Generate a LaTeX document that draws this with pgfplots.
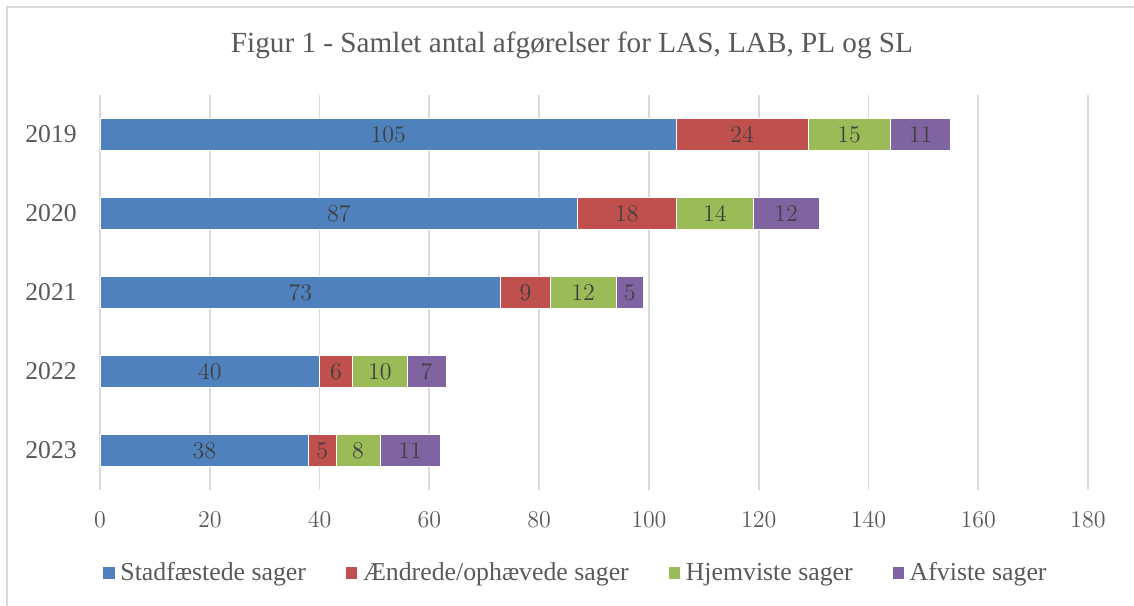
\documentclass[border=0pt]{standalone}
\usepackage{pgfplots}
\usepackage{pgfplotstable}
\pgfplotsset{compat=1.18}
\usepackage{fontspec}
\setmainfont{Liberation Serif}
\definecolor{cblue}{HTML}{4F81BD}
\definecolor{cred}{HTML}{C0504D}
\definecolor{cgreen}{HTML}{9BBB59}
\definecolor{cpurple}{HTML}{8064A2}
\definecolor{gridc}{HTML}{D9D9D9}
\definecolor{txt}{HTML}{595959}
\definecolor{lbl}{HTML}{404040}
\pgfplotstableread{
y s a h f
0 105 24 15 11
1 87 18 14 12
2 73 9 12 5
3 40 6 10 7
4 38 5 8 11
}\data
\begin{document}
\begin{tikzpicture}
\useasboundingbox (0,0) rectangle (567pt,302.5pt);
\begin{scope}
\clip (0,0) rectangle (567pt,302.5pt);
\draw[gridc, line width=0.8pt] (3.5pt,-10pt) rectangle (600pt,299pt);
\end{scope}
\node[text=txt, font=\fontsize{14.6}{18}\selectfont] at (286pt,280pt) {Figur 1 - Samlet antal afgørelser for LAS, LAB, PL og SL};
\begin{axis}[
  at={(50pt,57.5pt)}, anchor=south west,
  scale only axis, width=494pt, height=197.5pt,
  xbar stacked, bar width=16pt,
  xmin=0, xmax=180, ymin=-0.5, ymax=4.5,
  enlarge x limits=false, enlarge y limits=false,
  y dir=reverse,
  xtick={0,20,...,180},
  ytick={0,1,2,3,4},
  yticklabels={2019,2020,2021,2022,2023},
  axis line style={draw=none},
  major tick length=0pt,
  xmajorgrids, grid style={gridc, line width=0.9pt},
  tick label style={text=txt, font=\fontsize{12.8}{15}\selectfont},
  xticklabel style={anchor=center, yshift=-15pt},
  yticklabel style={anchor=east, inner sep=0pt, xshift=-11.5pt},
  nodes near coords={\pgfmathprintnumber{\v}},
  every node near coord/.append style={anchor=center, text=lbl, font=\fontsize{13}{15}\selectfont},
  legend columns=4,
  legend style={at={(0.4828,-0.2101)}, anchor=center, draw=none, fill=none,
    font=\fontsize{12.9}{15}\selectfont, text=txt,
    /tikz/every odd column/.append style={column sep=0pt},
    /tikz/every even column/.append style={column sep=17pt},
    nodes={inner xsep=2.5pt}},
  legend image code/.code={\fill[#1] (0pt,-3.1pt) rectangle (6.2pt,3.1pt);},
]
\addplot[fill=cblue, draw=white, line width=0.3pt, visualization depends on={\thisrow{s} \as \v}] table[x=s, y=y] {\data};
\addplot[fill=cred, draw=white, line width=0.3pt, visualization depends on={\thisrow{a} \as \v}] table[x=a, y=y] {\data};
\addplot[fill=cgreen, draw=white, line width=0.3pt, visualization depends on={\thisrow{h} \as \v}] table[x=h, y=y] {\data};
\addplot[fill=cpurple, draw=white, line width=0.3pt, visualization depends on={\thisrow{f} \as \v}] table[x=f, y=y] {\data};
\legend{Stadfæstede sager, Ændrede/ophævede sager, Hjemviste sager, Afviste sager}
\end{axis}
\end{tikzpicture}
\end{document}
